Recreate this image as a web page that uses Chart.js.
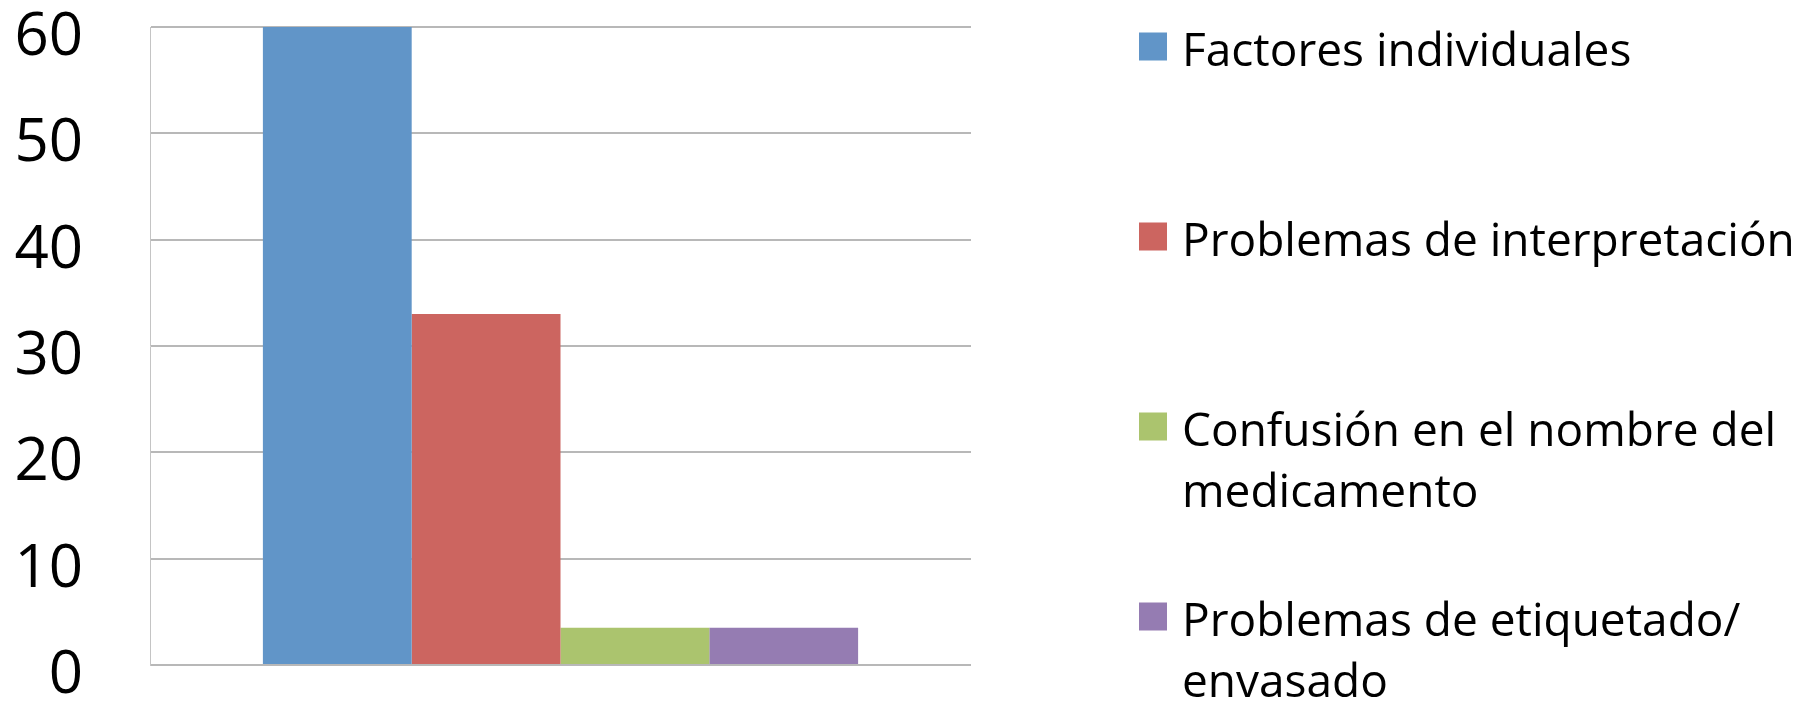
<!DOCTYPE html>
<html>
<head>
<meta charset="utf-8">
<script src="https://cdn.jsdelivr.net/npm/chart.js@4/dist/chart.umd.min.js"></script>
<style>
  html, body { margin: 0; padding: 0; background: #ffffff; }
  #wrap { position: relative; width: 1813px; height: 701px; }
</style>
</head>
<body>
<div id="wrap"><canvas id="c" width="1813" height="701"></canvas></div>
<script>
// ---- data ----
const categories = [''];
const seriesNames = [
  ['Factores individuales'],
  ['Problemas de interpretación'],
  ['Confusión en el nombre del', 'medicamento'],
  ['Problemas de etiquetado/', 'envasado']
];
const seriesValues = [
  [60],
  [33],
  [3.5],
  [3.5]
];
const seriesColors = ['#6195C8', '#CC6560', '#ABC46E', '#957CB2'];
const yTicks = [0, 10, 20, 30, 40, 50, 60];

// ---- custom legend drawn from chart data ----
const legendPlugin = {
  id: 'sideLegend',
  afterDraw(chart) {
    const ctx = chart.ctx;
    const boxX = 1139, box = 28, textX = 1182;
    const firstBaseline = 66, itemStep = 190, lineGap = 61, capHalf = 16.5;
    ctx.save();
    ctx.font = '46px "Open Sans"';
    ctx.textBaseline = 'alphabetic';
    ctx.textAlign = 'left';
    chart.data.datasets.forEach((ds, i) => {
      const base = firstBaseline + i * itemStep;
      const capCenter = base - capHalf;
      ctx.fillStyle = ds.backgroundColor;
      ctx.fillRect(boxX, capCenter - 3 - box / 2, box, box);
      ctx.fillStyle = '#000000';
      const lines = Array.isArray(ds.label) ? ds.label : [ds.label];
      lines.forEach((ln, j) => ctx.fillText(ln, textX, base + j * lineGap));
    });
    ctx.restore();
  }
};

const datasets = seriesNames.map((name, i) => ({
  label: name,
  data: seriesValues[i],
  backgroundColor: seriesColors[i],
  borderWidth: 0,
  categoryPercentage: 0.725,
  barPercentage: 1.0
}));

new Chart(document.getElementById('c'), {
  type: 'bar',
  data: { labels: categories, datasets },
  options: {
    responsive: false,
    animation: false,
    devicePixelRatio: 1,
    layout: { padding: { top: 27, bottom: 36, left: 0, right: 842 } },
    plugins: { legend: { display: false }, tooltip: { enabled: false } },
    scales: {
      x: { display: false },
      y: {
        min: 0, max: 60,
        afterBuildTicks(scale) { scale.ticks = yTicks.map(v => ({ value: v })); },
        afterFit(scale) {
          scale.width = 150;
          scale.paddingTop = 0;
          scale.paddingBottom = 0;
        },
        ticks: {
          font: { family: 'Open Sans', size: 60 },
          color: '#000000',
          padding: 67,
          labelOffset: 11
        },
        grid: { color: '#B8B8B8', lineWidth: 2, drawTicks: false },
        border: { display: true, color: '#C4C4C4', width: 1 }
      }
    }
  },
  plugins: [legendPlugin]
});
</script>
</body>
</html>
